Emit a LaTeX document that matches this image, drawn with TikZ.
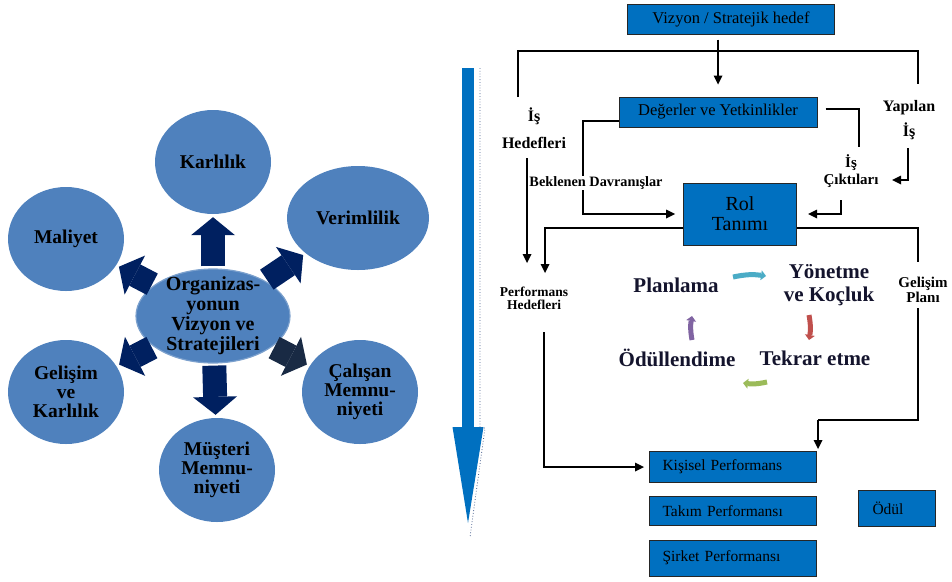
\documentclass[tikz,border=0pt]{standalone}
\usepackage{fontspec}
\setmainfont{Liberation Serif}
\usetikzlibrary{shapes.geometric,arrows.meta,calc}

\definecolor{bubblefill}{RGB}{79,129,189}
\definecolor{navyarrow}{RGB}{0,32,96}
\definecolor{darkarrow}{RGB}{25,42,68}
\definecolor{boxblue}{RGB}{0,112,192}
\definecolor{cyctext}{RGB}{20,20,45}
\definecolor{cycCyan}{RGB}{75,172,198}
\definecolor{cycRed}{RGB}{192,80,77}
\definecolor{cycGreen}{RGB}{155,187,89}
\definecolor{cycPurple}{RGB}{128,100,162}

\begin{document}
\begin{tikzpicture}[x=1pt,y=-1pt,>={Triangle[length=9pt,width=9pt,line width=0pt]},
  bubble/.style={ellipse,fill=bubblefill,inner sep=0pt,minimum width=116pt,minimum height=104pt,align=center,font=\bfseries\fontsize{19.5}{19}\selectfont},
  blockarrow/.style={line width=24pt,draw=navyarrow,-{Triangle[length=18pt,width=44pt,line width=0pt]},shorten <=2pt,shorten >=3pt},
  bluebox/.style={draw=black!85,line width=1pt,fill=boxblue,inner sep=0pt,font=\fontsize{16.5}{18}\selectfont},
  perfbox/.style={bluebox,minimum width=167pt,text width=141pt,align=left,font=\fontsize{15.5}{17}\selectfont},
  lbl/.style={font=\bfseries\fontsize{16}{18}\selectfont,align=center,inner sep=1pt},
  cyclbl/.style={font=\bfseries\fontsize{21}{23}\selectfont,text=cyctext,align=center},
  link/.style={line width=1.3pt},
  heavy/.style={line width=2.6pt},
  cycarrow/.style={line width=5pt,-{Triangle[length=5pt,width=10pt,line width=0pt]}}
]
  \useasboundingbox (0,0) rectangle (952,581);

  \coordinate (flowTop) at (468,68);
  \coordinate (flowTip) at (468,523);
  \coordinate (hedefTop) at (518,97);
  \coordinate (frameL) at (518,51);
  \coordinate (frameR) at (918,51);
  \coordinate (yapTop) at (918,84);
  \coordinate (davr) at (583,121);
  \coordinate (ciktiTop) at (859,147);
  \coordinate (yapS) at (908,148);
  \coordinate (ciktiR) at (892,180);
  \coordinate (ciktiS) at (841,200);
  \coordinate (hedefS) at (527,158);
  \coordinate (perfA) at (527,263);
  \coordinate (perfB) at (545,273);
  \coordinate (planTop) at (918,262);
  \coordinate (planS) at (918,308);
  \coordinate (kisBend) at (818,420);
  \coordinate (perfS) at (544,332);
  \coordinate (cyA) at (733,277);
  \coordinate (cyB) at (766,276);
  \coordinate (cyC) at (809,315);
  \coordinate (cyD) at (809,340);
  \coordinate (cyE) at (767,382);
  \coordinate (cyF) at (743,383);
  \coordinate (cyG) at (692,340);
  \coordinate (cyH) at (692,316);

  % Goals around the vision
  \node[bubble] (karlilik) at (213,162) {Karlılık};
  \node[bubble,minimum width=142pt] (verim) at (358,218) {Verimlilik};
  \node[bubble] (maliyet) at (66,239) {Maliyet};
  \node[bubble] (gelisimk) at (66,392) {Gelişim\\ve\\Karlılık};
  \node[bubble] (calisan) at (360,392) {Çalışan\\Memnu-\\niyeti};
  \node[bubble] (musteri) at (217,470) {Müşteri\\Memnu-\\niyeti};
  \node[bubble,minimum width=154pt,minimum height=94pt,draw=white!25!bubblefill,line width=1.2pt,
    label={[align=center,font=\bfseries\fontsize{20}{20}\selectfont]center:{Organizas-\\yonun\\Vizyon ve\\Stratejileri}}] (org) at (213,316) {};

  \foreach \goal in {karlilik,verim,maliyet,gelisimk,musteri}
    \draw[blockarrow] (org) -- (\goal);
  \draw[blockarrow,draw=darkarrow] (org) -- (calisan);

  % Big flow arrow
  \draw[line width=12pt,draw=boxblue,-{Triangle[length=96pt,width=31pt,line width=0pt]}] (flowTop) -- (flowTip);
  \draw[dotted,draw=navyarrow!70,line width=0.8pt] (480,68) -- (480,428) -- (485,428) -- (470,537);

  % Boxes
  \node[bluebox,minimum width=207pt,minimum height=30pt] (vizyon) at (731,19) {Vizyon / Stratejik hedef};
  \node[bluebox,minimum width=198pt,minimum height=30pt] (degerler) at (718,112) {Değerler ve Yetkinlikler};
  \node[bluebox,minimum width=113pt,minimum height=62pt,align=center,font=\fontsize{20}{20}\selectfont] (rol) at (740,214) {Rol\\Tanımı};
  \node[perfbox,minimum height=31pt] (kisisel) at (733,467) {Kişisel Performans};
  \node[perfbox,minimum height=29pt] (takim) at (733,511) {Takım Performansı};
  \node[perfbox,minimum height=36pt] (sirket) at (733,558) {Şirket Performansı};
  \node[bluebox,minimum width=77pt,minimum height=36pt,text width=49pt,align=left,font=\fontsize{15.5}{17}\selectfont] (odul) at (897,508) {Ödül};

  % Labels
  \node[lbl,font=\bfseries\fontsize{16}{27}\selectfont] (ishedef) at (534,128) {İş\\Hedefleri};
  \node[lbl,font=\bfseries\fontsize{16}{25}\selectfont] (yapilan) at (909,120) {Yapılan\\İş};
  \node[lbl,font=\bfseries\fontsize{15}{17}\selectfont] (iscikti) at (851,171) {İş\\Çıktıları};
  \node[lbl,font=\bfseries\fontsize{13.5}{13}\selectfont] (perfhedef) at (534,298) {Performans\\Hedefleri};
  \node[lbl,font=\bfseries\fontsize{15}{15}\selectfont] (gelplan) at (923,290) {Gelişim\\Planı};

  % Connectors
  \draw[heavy,->,shorten <=5pt,shorten >=12pt] (vizyon.south -| degerler.north) -- (degerler.north);
  \draw[link] (hedefTop) -- (frameL) -- (frameR) -- (yapTop);
  \draw[link,->] ([yshift=-9pt]degerler.west) -- (davr) |- ([xshift=-8pt]rol.west);
  \draw[link] ([xshift=8pt,yshift=3pt]degerler.east) -| (ciktiTop);
  \draw[heavy,->] (yapS) |- (ciktiR);
  \draw[heavy,->] (ciktiS) |- ([xshift=11pt]rol.east);
  \draw[heavy,->] (hedefS) -- (perfA);
  \draw[heavy,->] ([yshift=-14pt]rol.west) -| (perfB);
  \draw[link] ([yshift=-14pt]rol.east) -| (planTop);
  \draw[link] (planS) |- (kisBend);
  \draw[heavy,->] (kisBend) -- ([xshift=85pt,yshift=2pt]kisisel.north);
  \draw[link,->] (perfS) |- ([xshift=-5pt]kisisel.west);
  \node[lbl,fill=white,inner xsep=0pt,font=\bfseries\fontsize{14.3}{15}\selectfont] (beklenen) at (596,183) {Beklenen Davranışlar};

  % Management cycle
  \node[cyclbl] (planlama) at (676,285) {Planlama};
  \node[cyclbl] (yonetme) at (829,285) {Yönetme\\ve Koçluk};
  \node[cyclbl] (tekrar) at (815,358) {Tekrar etme};
  \node[cyclbl] (odullen) at (677,358) {Ödüllendime};
  \draw[cycarrow,draw=cycCyan,fill=cycCyan] (cyA) to[bend left=10] (cyB);
  \draw[cycarrow,draw=cycRed,fill=cycRed] (cyC) to[bend left=10] (cyD);
  \draw[cycarrow,draw=cycGreen,fill=cycGreen] (cyE) to[bend left=10] (cyF);
  \draw[cycarrow,draw=cycPurple,fill=cycPurple] (cyG) to[bend left=10] (cyH);
\end{tikzpicture}
\end{document}
